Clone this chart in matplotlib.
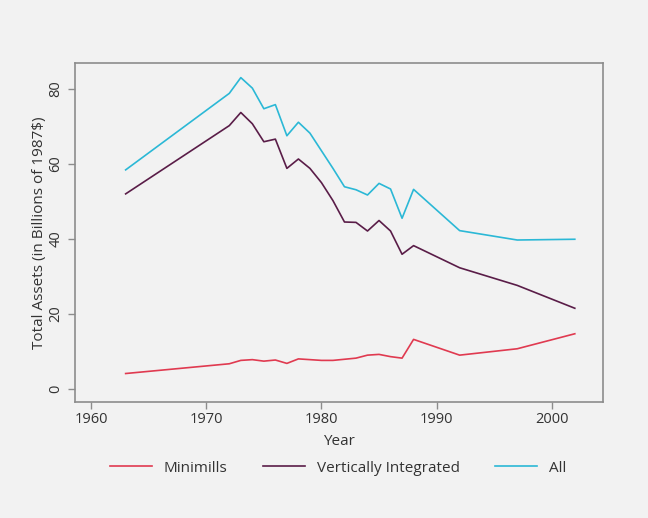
import matplotlib.pyplot as plt

# Data (billions of 1987 $)
years = [1963, 1972, 1973, 1974, 1975, 1976, 1977, 1978, 1979, 1980,
         1981, 1982, 1983, 1984, 1985, 1986, 1987, 1988, 1992, 1997, 2002]
minimills = [4.1, 6.7, 7.6, 7.8, 7.4, 7.7, 6.8, 8.0, 7.8, 7.6,
             7.6, 7.9, 8.2, 9.0, 9.2, 8.6, 8.2, 13.2, 9.0, 10.7, 14.7]
vertically_integrated = [52.0, 70.2, 73.7, 70.7, 65.9, 66.6, 58.8, 61.3, 58.8, 55.0,
                         50.2, 44.5, 44.4, 42.1, 44.9, 42.1, 35.9, 38.2, 32.3, 27.6, 21.5]
all_firms = [58.4, 78.8, 83.0, 80.2, 74.7, 75.8, 67.5, 71.1, 68.2, 63.5,
             58.8, 53.9, 53.1, 51.7, 54.8, 53.3, 45.5, 53.2, 42.2, 39.7, 39.9]

series_labels = ['Minimills', 'Vertically Integrated', 'All']
series_colors = ['#e03a50', '#5a1d48', '#2bb8d6']

x_ticks = [1960, 1970, 1980, 1990, 2000]
y_ticks = [0, 20, 40, 60, 80]

plt.rcParams['font.family'] = ['Open Sans', 'DejaVu Sans']
bg = '#f2f2f2'
frame = '#8c8c8c'
text_col = '#333333'

fig = plt.figure(figsize=(6.48, 5.18), dpi=100, facecolor=bg)
ax = fig.add_axes([0.1157, 0.2239, 0.8149, 0.6545], facecolor=bg)

for vals, lab, col in zip([minimills, vertically_integrated, all_firms],
                          series_labels, series_colors):
    ax.plot(years, vals, color=col, lw=1.2, label=lab)

ax.set_xlim(1958.6, 2004.45)
ax.set_ylim(-3.5, 86.9)
ax.set_xticks(x_ticks)
ax.set_yticks(y_ticks)
ax.set_yticklabels([str(v) for v in y_ticks], rotation=90, va='center')

for s in ax.spines.values():
    s.set_color(frame)
    s.set_linewidth(1.2)
ax.tick_params(colors=frame, labelcolor=text_col, length=5, width=1,
               labelsize=10.5)
ax.tick_params(axis='x', pad=2.5)

ax.set_xlabel('Year', fontsize=11, color=text_col, labelpad=5)
ax.set_ylabel('Total Assets (in Billions of 1987$)', fontsize=11,
              color=text_col, labelpad=1)

fig.legend(loc='center', bbox_to_anchor=(0.522, 1 - 468 / 518), ncol=3,
           frameon=False, fontsize=11, handlelength=2.75, handletextpad=0.8,
           columnspacing=2.3, labelcolor=text_col)

fig.savefig('out.png', dpi=100, facecolor=bg)
